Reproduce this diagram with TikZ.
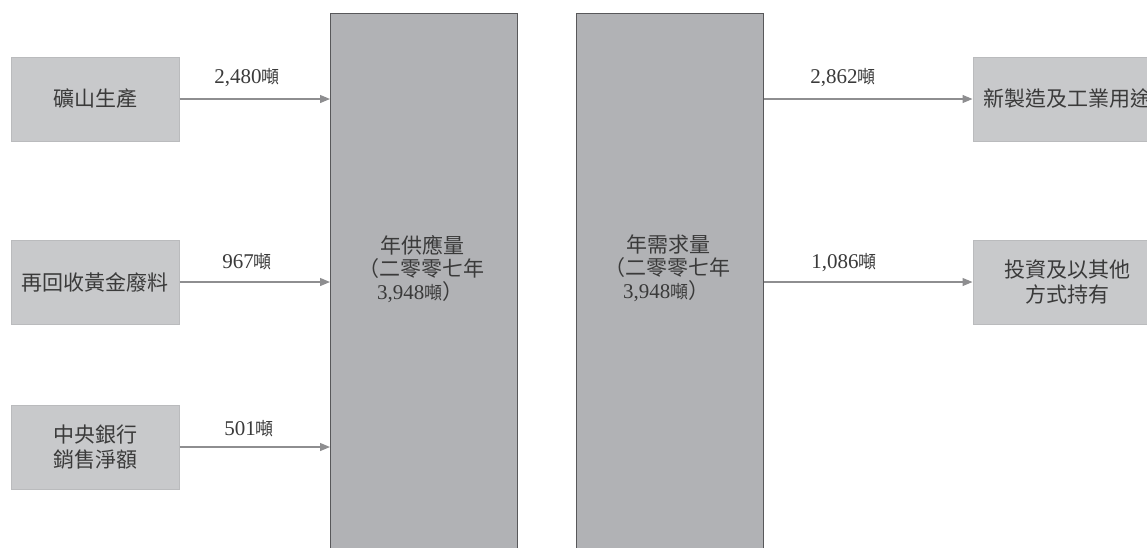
\documentclass[tikz,border=0pt]{standalone}
\usepackage{fontspec}
\setmainfont{Liberation Serif}
\newfontfamily\cjk{Noto Sans CJK TC}
\usetikzlibrary{arrows.meta}
\definecolor{boxfill}{HTML}{C8C9CB}
\definecolor{boxline}{HTML}{BABBBD}
\definecolor{barfill}{HTML}{B1B2B5}
\definecolor{barline}{HTML}{58585A}
\definecolor{arrcol}{HTML}{8E8E90}
\definecolor{txt}{HTML}{3A3A3A}
\tikzset{
  srcbox/.style={draw=boxline, fill=boxfill, line width=1pt, minimum width=168pt, minimum height=84pt, inner sep=0pt, text=txt, font=\cjk\fontsize{21}{25}\selectfont, align=center},
  barbox/.style={draw=barline, fill=barfill, line width=1.4pt, minimum width=187pt, minimum height=547pt, inner sep=0pt},
  bartext/.style={text=txt, font=\cjk\fontsize{21}{23}\selectfont, align=left, inner sep=0pt, anchor=north west},
  flow/.style={draw=arrcol, line width=1.2pt, -{Triangle[length=10pt,width=8pt]}},
  qty/.style={text=txt, font=\fontsize{21}{24}\selectfont, inner sep=0pt}
}
\newcommand{\ton}{{\cjk\fontsize{18}{20}\selectfont 噸}}
\begin{document}
\begin{tikzpicture}[x=1pt,y=-1pt]
\useasboundingbox (0,0) rectangle (1147,547);
\clip (0,0) rectangle (1147,547);
% bars
\node[barbox, anchor=north west] (sup) at (330,13) {};
\node[barbox, anchor=north west] (dem) at (576,13) {};
\node[bartext] (suptxt) at (358,235) {\hspace{22pt}年供應量\\（二零零七年\\\hspace{19pt}{\rmfamily 3,948}\ton）};
\node[bartext] (demtxt) at (604,235) {\hspace{22pt}年需求量\\（二零零七年\\\hspace{19pt}{\rmfamily 3,948}\ton）};
% sources
\node[srcbox] (mine) at (95,99) {礦山生產};
\node[srcbox] (scrap) at (95,282) {再回收黃金廢料};
\node[srcbox] (cb) at (95,447) {中央銀行\\銷售淨額};
% uses
\node[srcbox, minimum width=188pt] (fab) at (1067,99) {新製造及工業用途};
\node[srcbox, minimum width=188pt] (inv) at (1067,282) {投資及以其他\\方式持有};
% flows
\draw[flow] (mine.east) -- (mine.east -| sup.west);
\draw[flow] (scrap.east) -- (scrap.east -| sup.west);
\draw[flow] (cb.east) -- (cb.east -| sup.west);
\draw[flow] (fab.west -| dem.east) -- (fab.west);
\draw[flow] (inv.west -| dem.east) -- (inv.west);
% quantities
\node[qty] (q1) at (247,78) {2,480\ton};
\node[qty] (q2) at (247,262) {967\ton};
\node[qty] (q3) at (249,429) {501\ton};
\node[qty] (q4) at (843,78) {2,862\ton};
\node[qty] (q5) at (844,263) {1,086\ton};
\end{tikzpicture}
\end{document}
